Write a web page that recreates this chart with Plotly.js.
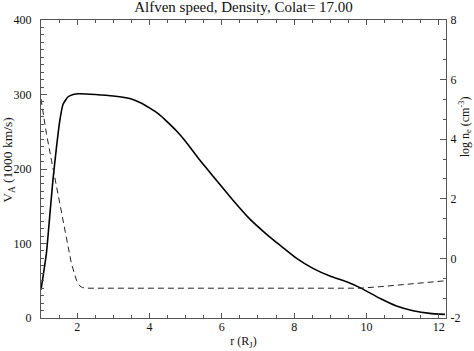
<!DOCTYPE html>
<html>
<head>
<meta charset="utf-8">
<script src="https://cdn.plot.ly/plotly-3.0.1.min.js"></script>
<style>html,body{margin:0;padding:0;background:#fff;}#chart{width:474px;height:351px;}</style>
</head>
<body>
<div id="chart"></div>
<script>
// Alfven speed (left axis, 1000 km/s) vs r (R_J)
const rVa = [1.0, 1.055, 1.15, 1.24, 1.33, 1.43, 1.52, 1.61, 1.75, 1.89, 2.05, 2.5, 3.0, 3.5, 3.75, 4.0, 4.25, 4.5, 4.75, 5.0, 5.39, 5.85, 6.31, 6.77, 7.2, 7.6, 8.07, 8.52, 8.99, 9.45, 9.86, 10.37, 10.83, 11.29, 11.75, 12.17];
const va  = [38, 55, 87, 136, 185, 230, 265, 287, 297, 300, 301, 300, 298, 294, 289, 282, 274, 263, 251, 237, 212, 185, 158, 133, 114, 98, 80, 66.6, 56.3, 48.6, 39.8, 26.4, 16, 9.8, 6.2, 4.9];
// log electron density (right axis, cm^-3) vs r (R_J)
const rNe = [1.0, 1.15, 1.29, 1.43, 1.56, 1.70, 1.84, 1.98, 2.07, 2.15, 2.3, 3, 4, 5, 6, 7, 8, 9, 9.8, 10.37, 10.8, 11.29, 11.75, 12.2];
const logNe = [5.35, 4.19, 3.29, 2.40, 1.51, 0.61, -0.17, -0.73, -0.92, -0.98, -1.0, -1.0, -1.0, -1.0, -1.0, -1.0, -1.0, -1.0, -1.0, -0.95, -0.9, -0.84, -0.79, -0.75];
const xTicks = [2, 4, 6, 8, 10, 12];
const yTicks = [0, 100, 200, 300, 400];
const y2Ticks = [-2, 0, 2, 4, 6, 8];

const font = 'Liberation Serif';
const axisColor = '#555';
const txt = '#111';

const traces = [
  {x: rVa, y: va, type: 'scatter', mode: 'lines', line: {color: '#000', width: 1.6, shape: 'spline', smoothing: 0.5}, yaxis: 'y', hoverinfo: 'skip'},
  {x: rNe, y: logNe, type: 'scatter', mode: 'lines', line: {color: '#222', width: 1, dash: '6px,4px'}, yaxis: 'y2', hoverinfo: 'skip'}
];

const layout = {
  width: 474, height: 351,
  margin: {l: 41, r: 28, t: 20, b: 33, pad: 0},
  paper_bgcolor: '#fff', plot_bgcolor: '#fff',
  showlegend: false,
  font: {family: font, color: txt, size: 11},
  title: {text: 'Alfven speed, Density, Colat= 17.00', font: {family: font, size: 15, color: txt},
          x: 0.5, xref: 'paper', y: 1 - 7/351, yref: 'container', yanchor: 'middle'},
  xaxis: {
    range: [1, 12.2], tickvals: xTicks, ticktext: xTicks.map(String),
    ticks: 'inside', ticklen: 5, tickcolor: axisColor, tickwidth: 1,
    minor: {dtick: 0.5, tick0: 1, ticks: 'inside', ticklen: 3, tickcolor: axisColor},
    showline: true, linecolor: axisColor, linewidth: 1, mirror: 'ticks',
    showgrid: false, zeroline: false,
    tickfont: {family: font, size: 12, color: txt},
    ticklabelstandoff: -2,
    title: {text: 'r (R<sub>J</sub>)', font: {family: font, size: 12, color: txt}, standoff: 3}
  },
  yaxis: {
    range: [0, 400], tickvals: yTicks, ticktext: yTicks.map(String),
    ticks: 'inside', ticklen: 6, tickcolor: axisColor,
    minor: {dtick: 10, tick0: 0, ticks: 'inside', ticklen: 3, tickcolor: axisColor},
    showline: true, linecolor: axisColor, linewidth: 1, mirror: false,
    showgrid: false, zeroline: false,
    tickfont: {family: font, size: 12, color: txt},
    ticklabelstandoff: 6
  },
  yaxis2: {
    range: [-2, 8], tickvals: y2Ticks, ticktext: y2Ticks.map(String),
    overlaying: 'y', side: 'right',
    ticks: 'inside', ticklen: 6, tickcolor: axisColor,
    minor: {dtick: 2/3, tick0: -2, ticks: 'inside', ticklen: 3, tickcolor: axisColor},
    showline: true, linecolor: axisColor, linewidth: 1,
    showgrid: false, zeroline: false,
    tickfont: {family: font, size: 12, color: txt},
    ticklabelstandoff: 1
  },
  annotations: [
    {text: 'V<sub>A</sub> (1000 km/s)', xref: 'paper', yref: 'paper', x: -0.082, y: 0.53,
     xanchor: 'center', yanchor: 'middle', textangle: -90, showarrow: false,
     font: {family: font, size: 13.5, color: txt}},
    {text: 'log n<sub>e</sub> (cm<sup>-3</sup>)', xref: 'paper', yref: 'paper', x: 1.047, y: 0.64,
     xanchor: 'center', yanchor: 'middle', textangle: -90, showarrow: false,
     font: {family: font, size: 12, color: txt}}
  ]
};

Plotly.newPlot('chart', traces, layout, {staticPlot: true, displayModeBar: false});
</script>
</body>
</html>
